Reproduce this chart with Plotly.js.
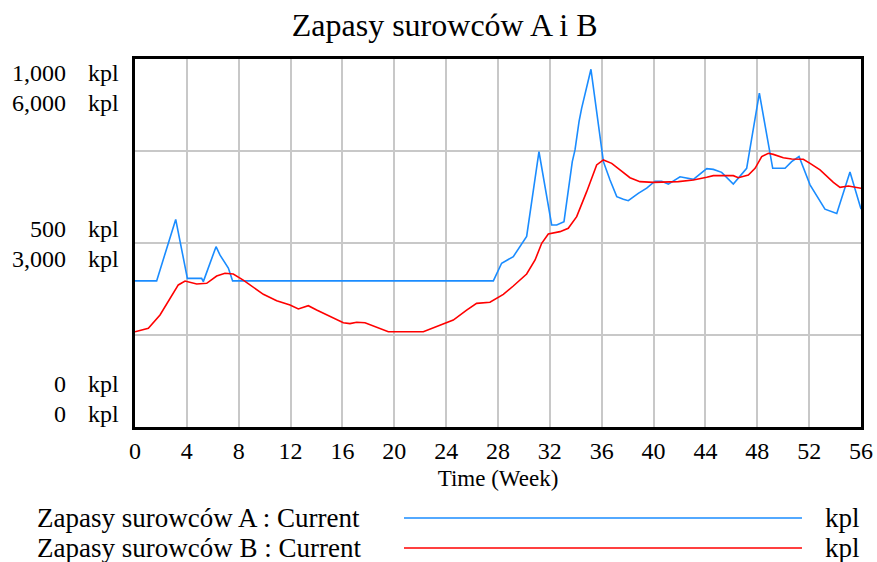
<!DOCTYPE html>
<html>
<head>
<meta charset="utf-8">
<script src="https://cdn.plot.ly/plotly-3.0.1.min.js"></script>
<style>html,body{margin:0;padding:0;background:#fff;}#chart{width:877px;height:562px;}</style>
</head>
<body>
<div id="chart"></div>
<script>
// Series A (scale 0..1000 kpl)
const timeA = [0, 1.67, 3.14, 4.04, 5.14, 5.27, 6.25, 6.56, 7.2, 7.53, 27.64, 28.28, 29.18, 30.21, 31.16, 32.14, 32.53, 33.09, 33.73, 33.94, 34.25, 34.45, 35.17, 36.13, 36.64, 37.16, 37.67, 38.05, 38.82, 39.47, 40.11, 40.63, 41.14, 42.04, 43.07, 43.58, 44.1, 44.61, 45.25, 46.15, 47.18, 48.16, 49.19, 50.14, 50.65, 51.22, 52.07, 53.22, 54.13, 55.15, 56];
const valuesA = [397, 397, 564, 404, 404, 395, 490, 467, 432, 397, 397, 445, 463, 518, 748, 549, 549, 558, 721, 753, 830, 866, 972, 721, 671, 626, 619, 615, 635, 649, 668, 668, 660, 680, 673, 687, 702, 700, 692, 660, 703, 907, 703, 703, 721, 735, 658, 592, 580, 693, 592];
// Series B (scale 0..6000 kpl)
const timeB = [0, 1.03, 1.93, 2.7, 3.34, 3.86, 4.76, 5.53, 6.3, 6.94, 7.58, 8.35, 9.13, 9.9, 10.93, 11.96, 12.6, 13.37, 14.01, 15.04, 16.07, 16.58, 17.1, 17.74, 18.9, 19.54, 22.24, 23.78, 24.55, 25.58, 26.35, 27.38, 28.41, 29.18, 30.21, 30.86, 31.37, 31.88, 32.78, 33.42, 34.07, 34.84, 35.61, 36.13, 36.77, 37.41, 38.18, 38.95, 39.98, 41.91, 43.07, 44.1, 44.61, 46.15, 46.54, 47.31, 47.83, 48.34, 48.86, 49.24, 50.01, 50.65, 51.55, 52.07, 52.84, 53.87, 54.38, 55.03, 55.67, 56];
const valuesB = [1553, 1609, 1826, 2098, 2316, 2380, 2332, 2343, 2462, 2506, 2494, 2396, 2272, 2163, 2060, 1989, 1924, 1978, 1907, 1799, 1701, 1685, 1707, 1701, 1598, 1553, 1553, 1675, 1744, 1907, 2016, 2033, 2163, 2299, 2494, 2723, 2995, 3147, 3185, 3240, 3430, 3837, 4272, 4354, 4299, 4191, 4065, 4000, 3989, 4000, 4027, 4071, 4098, 4098, 4065, 4109, 4217, 4408, 4462, 4445, 4391, 4370, 4365, 4299, 4191, 3989, 3908, 3929, 3908, 3892];

const seriesNames = ['Zapasy surowców A : Current', 'Zapasy surowców B : Current'];
const seriesColors = ['#1a8cff', '#ff0000'];
const unit = 'kpl';
const xTicks = [0, 4, 8, 12, 16, 20, 24, 28, 32, 36, 40, 44, 48, 52, 56];
const yTickLabelsA = ['1,000', '500', '0'];
const yTickLabelsB = ['6,000', '3,000', '0'];

const FONT = 'Liberation Serif';

const traces = [
  {x: timeA, y: valuesA, type: 'scatter', mode: 'lines', name: seriesNames[0],
   line: {color: seriesColors[0], width: 1.6}, yaxis: 'y'},
  {x: timeB, y: valuesB, type: 'scatter', mode: 'lines', name: seriesNames[1],
   line: {color: seriesColors[1], width: 1.6}, yaxis: 'y2'}
];

// label placement (paper coords)
const labelYs = [[0.962, 0.880], [0.538, 0.457], [0.117, 0.035]];
const annotations = [];
for (let i = 0; i < 3; i++) {
  const pairs = [[yTickLabelsA[i], labelYs[i][0]], [yTickLabelsB[i], labelYs[i][1]]];
  pairs.forEach(([txt, yy]) => {
    annotations.push({xref: 'paper', yref: 'paper', x: -0.0923, y: yy, text: txt, showarrow: false,
      xanchor: 'right', yanchor: 'middle', font: {family: FONT, size: 24, color: '#000'}});
    annotations.push({xref: 'paper', yref: 'paper', x: -0.0675, y: yy, text: unit, showarrow: false,
      xanchor: 'left', yanchor: 'middle', font: {family: FONT, size: 24, color: '#000'}});
  });
}
const legYs = [-0.2473, -0.3288];
const shapes = [];
for (let i = 0; i < 2; i++) {
  annotations.push({xref: 'paper', yref: 'paper', x: -0.1377, y: legYs[i], text: seriesNames[i], showarrow: false,
    xanchor: 'left', yanchor: 'middle', font: {family: FONT, size: 27, color: '#000'}});
  annotations.push({xref: 'paper', yref: 'paper', x: 0.9477, y: legYs[i], text: unit, showarrow: false,
    xanchor: 'left', yanchor: 'middle', font: {family: FONT, size: 27, color: '#000'}});
  shapes.push({type: 'line', xref: 'paper', yref: 'paper', x0: 0.3705, x1: 0.9187, y0: legYs[i], y1: legYs[i],
    line: {color: seriesColors[i], width: 1.6}});
}

const layout = {
  width: 877, height: 562,
  margin: {l: 135, r: 16, t: 59, b: 135},
  paper_bgcolor: '#fff', plot_bgcolor: '#fff',
  showlegend: false,
  font: {family: FONT, color: '#000'},
  title: {text: 'Zapasy surowców A i B', x: 0.507, xanchor: 'center', y: 0.955, yanchor: 'middle',
          font: {family: FONT, size: 32, color: '#000'}},
  xaxis: {range: [0, 56], tickvals: xTicks, ticktext: xTicks.map(String),
          showgrid: true, gridcolor: '#c8c8c8', gridwidth: 2,
          showline: true, linecolor: '#000', linewidth: 3, mirror: true,
          zeroline: false, ticks: '', tickfont: {family: FONT, size: 24, color: '#000'},
          title: {text: 'Time (Week)', font: {family: FONT, size: 23, color: '#000'}, standoff: 8}},
  yaxis: {range: [0, 1000], dtick: 250, showticklabels: false, showgrid: true, gridcolor: '#c8c8c8', gridwidth: 2,
          showline: true, linecolor: '#000', linewidth: 3, mirror: true, zeroline: false, ticks: ''},
  yaxis2: {range: [0, 6000], overlaying: 'y', side: 'left', showticklabels: false, showgrid: false,
           zeroline: false, showline: false, ticks: ''},
  annotations: annotations,
  shapes: shapes
};

Plotly.newPlot('chart', traces, layout, {staticPlot: true, displayModeBar: false});
</script>
</body>
</html>
